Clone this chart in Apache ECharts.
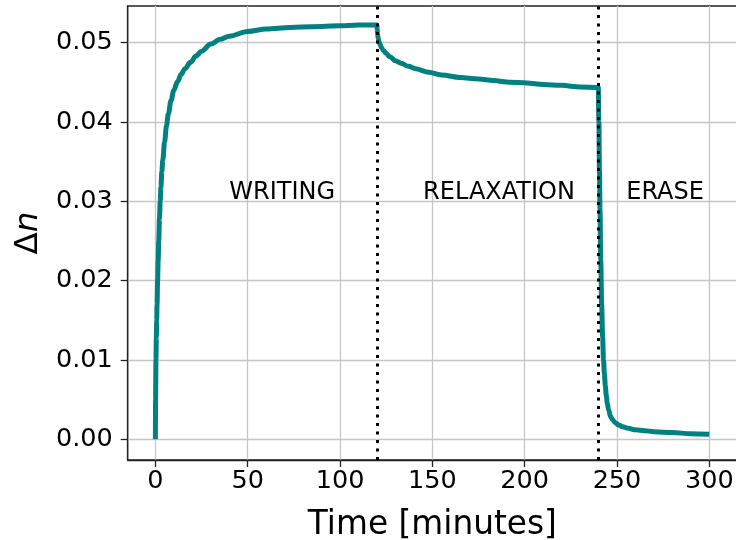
<!DOCTYPE html>
<html>
<head>
<meta charset="utf-8">
<script src="https://cdn.jsdelivr.net/npm/echarts@6/dist/echarts.min.js"></script>
<style>
  html, body { margin: 0; padding: 0; background: #ffffff; }
  #chart { width: 736px; height: 540px; }
</style>
</head>
<body>
<div id="chart"></div>
<script>
// Birefringence Δn over time: writing, relaxation and erase phases
const writingTime  = [0, 0.1, 0.3, 0.5, 0.7, 0.9, 1.2, 1.5, 1.8, 2.2, 2.6, 3, 3.5, 4, 5, 6, 7, 8.5, 10, 12, 14, 16, 19, 22, 25, 30, 35, 40, 50, 60, 73, 85, 100, 110, 120];
const writingDn    = [0, 0.005, 0.010, 0.0128, 0.015, 0.017, 0.020, 0.0225, 0.025, 0.0278, 0.030, 0.0318, 0.0338, 0.0352, 0.0375, 0.0395, 0.0410, 0.0427, 0.0440, 0.0451, 0.0460, 0.0467, 0.0475, 0.0483, 0.0489, 0.0498, 0.0504, 0.0508, 0.0514, 0.0517, 0.0519, 0.0520, 0.0521, 0.0522, 0.0522];

const relaxTime    = [120.1, 120.3, 120.6, 121, 121.6, 122.4, 123.5, 125, 127, 130, 133, 137, 141, 147, 155, 165, 175, 183, 192, 201, 210, 220, 230, 239.9];
const relaxDn      = [0.0517, 0.0511, 0.0506, 0.0502, 0.0498, 0.0494, 0.0490, 0.0486, 0.0482, 0.0477, 0.0474, 0.0470, 0.0467, 0.0463, 0.0459, 0.0456, 0.0454, 0.0452, 0.0450, 0.0449, 0.0447, 0.0446, 0.0444, 0.0443];

const eraseTime    = [240, 240.2, 240.5, 240.8, 241.2, 241.7, 242.2, 242.7, 243.2, 243.7, 244.2, 244.8, 245.5, 246.5, 247.5, 249, 251, 253, 256, 260, 265, 270, 280, 290, 300];
const eraseDn      = [0.0443, 0.0400, 0.0340, 0.0290, 0.0226, 0.0170, 0.0130, 0.0100, 0.0082, 0.0067, 0.0055, 0.0045, 0.0037, 0.0029, 0.0025, 0.0021, 0.0018, 0.0016, 0.0014, 0.0012, 0.0011, 0.00097, 0.00085, 0.00072, 0.00065];

// Phase boundaries and labels
const phaseBoundaries = [120, 240];
const phaseNames      = ['WRITING', 'RELAXATION', 'ERASE'];
const phaseLabelTime  = [40, 145, 255];
const phaseLabelDn    = 0.0311;

// Axis ticks
const xTicks = [0, 50, 100, 150, 200, 250, 300];
const yTicks = [0, 0.01, 0.02, 0.03, 0.04, 0.05];

const times  = writingTime.concat(relaxTime, eraseTime);
const values = writingDn.concat(relaxDn, eraseDn);
const seriesData = times.map((t, i) => [t, values[i]]);

const FONT = 'DejaVu Sans';
const chart = echarts.init(document.getElementById('chart'), null, { renderer: 'canvas' });

const axisLineStyle = { color: '#222222', width: 1.3 };
const gridLineStyle = { color: '#c6c6c6', width: 1.3 };

chart.setOption({
  animation: false,
  backgroundColor: '#ffffff',
  grid: {
    left: 127.7, top: 6, width: 609.3, height: 454,
    outerBoundsMode: 'none',
    containLabel: false,
    show: true, borderColor: '#222222', borderWidth: 1.3, backgroundColor: 'transparent'
  },
  xAxis: {
    type: 'value',
    min: -15, max: 315,
    name: 'Time [minutes]',
    nameLocation: 'middle',
    nameGap: 49,
    nameTextStyle: { fontFamily: FONT, fontSize: 32.8, color: '#000000' },
    axisLine: { show: true, onZero: false, lineStyle: axisLineStyle },
    axisTick: { show: true, length: 7, customValues: xTicks, lineStyle: axisLineStyle },
    axisLabel: { customValues: xTicks, margin: 8, fontFamily: FONT, fontSize: 25.5, color: '#000000' },
    splitLine: { show: true, lineStyle: gridLineStyle }
  },
  yAxis: {
    type: 'value',
    min: -0.0026, max: 0.0546,
    name: '{a|Δ}{b|n}',
    nameLocation: 'middle',
    nameGap: 82,
    nameTextStyle: {
      fontFamily: FONT, fontSize: 32.5, color: '#000000',
      rich: {
        a: { fontFamily: FONT, fontSize: 32.5, color: '#000000' },
        b: { fontFamily: FONT, fontSize: 32.5, color: '#000000', fontStyle: 'italic' }
      }
    },
    axisLine: { show: true, onZero: false, lineStyle: axisLineStyle },
    axisTick: { show: true, length: 7, customValues: yTicks, lineStyle: axisLineStyle },
    axisLabel: {
      customValues: yTicks, margin: 15, fontFamily: FONT, fontSize: 25.5, color: '#000000',
      formatter: v => v.toFixed(2)
    },
    splitLine: { show: true, lineStyle: gridLineStyle }
  },
  series: [{
    type: 'line',
    name: 'Δn',
    data: seriesData,
    showSymbol: false,
    smooth: 0.35,
    smoothMonotone: 'x',
    lineStyle: { color: '#008080', width: 5, cap: 'butt', join: 'round' },
    z: 3
  }, {
    // phase boundaries, drawn above the curve
    type: 'line',
    name: 'boundaries',
    data: [],
    z: 5,
    markLine: {
      silent: true,
      symbol: ['none', 'none'],
      label: { show: false },
      lineStyle: { color: '#000000', width: 3, type: [3, 5.5], cap: 'butt' },
      data: phaseBoundaries.map(b => ({ xAxis: b }))
    }
  }]
});

// Phase labels placed in data coordinates
const labelElements = phaseNames.map((name, i) => {
  const p = chart.convertToPixel({ gridIndex: 0 }, [phaseLabelTime[i], phaseLabelDn]);
  return {
    type: 'text',
    x: p[0], y: p[1],
    z: 10,
    style: {
      text: name,
      fontFamily: FONT, fontSize: 24, fill: '#000000',
      align: 'left', verticalAlign: 'middle'
    }
  };
});
chart.setOption({ graphic: labelElements });
</script>
</body>
</html>
